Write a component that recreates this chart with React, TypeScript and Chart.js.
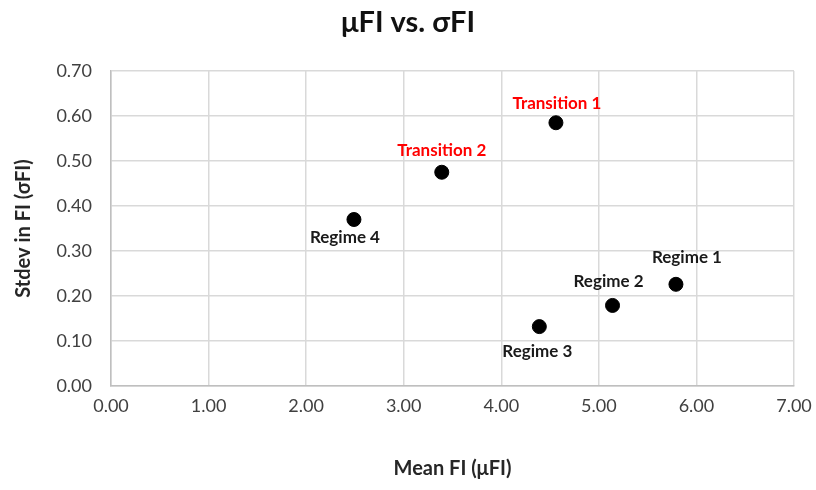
import React, { useEffect, useRef } from "react";
import { Chart, registerables } from "chart.js";

Chart.register(...registerables);

// Series: mean and standard deviation of FI per state
const pointNames = ["Regime 1", "Regime 2", "Regime 3", "Regime 4", "Transition 1", "Transition 2"];
const meanFI = [5.79, 5.14, 4.39, 2.49, 4.56, 3.39];
const stdevFI = [0.226, 0.179, 0.132, 0.37, 0.585, 0.475];

// Label placement (pixel offsets of the label centre from its marker)
const labelDx = [11, -4, -2, -9, 1, 0];
const labelDy = [-27, -24, 25, 18, -19, -22];

const FONT = "Lato, 'Open Sans', sans-serif";

const pointLabels = {
  id: "pointLabels",
  afterDatasetsDraw(chart: any) {
    const ctx = chart.ctx;
    const meta = chart.getDatasetMeta(0);
    ctx.save();
    ctx.font = `bold 17px ${FONT}`;
    ctx.textAlign = "center";
    ctx.textBaseline = "middle";
    meta.data.forEach((el: any, i: number) => {
      const name = pointNames[i];
      ctx.fillStyle = name.startsWith("Transition") ? "#ff0000" : "#1a1a1a";
      ctx.fillText(name, el.x + labelDx[i], el.y + labelDy[i]);
    });
    ctx.restore();
  },
};

const chartTitle = {
  id: "chartTitle",
  afterDraw(chart: any) {
    const ctx = chart.ctx;
    ctx.save();
    ctx.font = `bold 29px ${FONT}`;
    ctx.fillStyle = "#111";
    ctx.textAlign = "center";
    ctx.textBaseline = "middle";
    ctx.fillText("\u03bcFI vs. \u03c3FI", chart.width / 2, 23);
    ctx.restore();
  },
};

export default function App() {
  const canvasRef = useRef<HTMLCanvasElement | null>(null);

  useEffect(() => {
    document.body.style.margin = "0";
    const canvas = canvasRef.current;
    if (!canvas) return;
    const chart = new Chart(canvas, {
      type: "scatter",
      data: {
        datasets: [
          {
            data: meanFI.map((x, i) => ({ x, y: stdevFI[i] })),
            backgroundColor: "#000",
            borderColor: "#000",
            pointRadius: 7,
            pointHoverRadius: 7,
          },
        ],
      },
      options: {
        animation: false,
        responsive: false,
        maintainAspectRatio: false,
        layout: { padding: { top: 71, right: 22, left: 0, bottom: 0 } },
        plugins: {
          legend: { display: false },
          tooltip: { enabled: false },
          title: { display: false },
        },
        scales: {
          x: {
            type: "linear",
            min: 0,
            max: 7,
            afterFit: (s: any) => {
              s.height = 104;
              s.paddingLeft = 0;
              s.paddingRight = 0;
            },
            ticks: {
              stepSize: 1,
              padding: 9,
              color: "#404040",
              font: { family: FONT, size: 18 },
              callback: (v: any) => Number(v).toFixed(2),
            },
            grid: { color: "#d9d9d9", lineWidth: 1.5, drawTicks: false },
            border: { color: "#bfbfbf", width: 1.5 },
            title: {
              display: true,
              text: "Mean FI (\u03bcFI)",
              color: "#262626",
              font: { family: FONT, size: 20, weight: "bold" },
              padding: { top: 4, bottom: 9 },
            },
          },
          y: {
            type: "linear",
            min: 0,
            max: 0.7,
            afterFit: (s: any) => {
              s.width = 111;
              s.paddingTop = 0;
              s.paddingBottom = 0;
            },
            ticks: {
              stepSize: 0.1,
              padding: 19,
              color: "#404040",
              font: { family: FONT, size: 18 },
              callback: (v: any) => Number(v).toFixed(2),
            },
            grid: { color: "#d9d9d9", lineWidth: 1.5, drawTicks: false },
            border: { color: "#bfbfbf", width: 1.5 },
            title: {
              display: true,
              text: "Stdev in FI (\u03c3FI)",
              color: "#262626",
              font: { family: FONT, size: 20, weight: "bold" },
              padding: { top: 12, bottom: 4 },
            },
          },
        },
      },
      plugins: [pointLabels, chartTitle],
    });
    return () => chart.destroy();
  }, []);

  return (
    <div style={{ width: 816, height: 490, background: "#fff" }}>
      <canvas ref={canvasRef} width={816} height={490} />
    </div>
  );
}
